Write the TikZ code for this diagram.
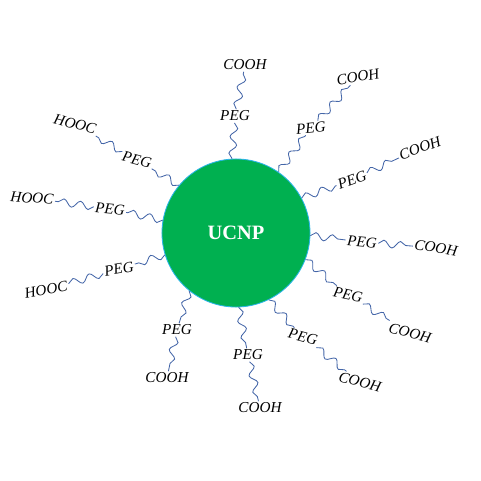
\documentclass[tikz,border=0pt]{standalone}
\usepackage{fontspec}
\setmainfont{Liberation Serif}
\usetikzlibrary{decorations.pathmorphing}
\definecolor{ballgreen}{HTML}{00B050}
\definecolor{ballrim}{HTML}{2BB5E8}
\definecolor{chainblue}{HTML}{4466A8}
\tikzset{
  chain/.style={chainblue, semithick, decorate,
    decoration={snake, segment length=0.42cm, amplitude=0.09cm}},
  group/.style={font=\itshape\fontsize{10.8}{12}\selectfont, inner sep=1pt}
}
\begin{document}
\begin{tikzpicture}[x=0.025cm, y=-0.025cm]
  \useasboundingbox (0,0) rectangle (481,481);
  \node[circle, minimum size=3.7cm, fill=ballgreen, draw=ballrim, line width=0.6pt,
        font=\bfseries\fontsize{14.5}{16}\selectfont, text=white] (ucnp) at (236,233) {UCNP};
  % angle / PEG position and tilt / end group position, tilt and text
  \foreach \ang/\px/\py/\pr/\ex/\ey/\er/\txt [count=\i] in {
      93/235/116/0/245/65/0/COOH,
      55/311/128/5/358/77/10/COOH,
      28/352/180/20/420/148/20/COOH,
      -2/362/242/-5/436/248/-10/COOH,
      -21/348/295/-12/410/333/-15/COOH,
      -64/303/337/-15/360/382/-15/COOH,
      -88/248/355/0/260/408/0/COOH,
      231/177/330/0/167/378/0/COOH,
      197/119/269/10/46/290/10/HOOC,
      170/110/209/-5/32/198/-5/HOOC,
      140/137/160/-15/75/124/-15/HOOC} {
    \node[group, rotate=\pr] (peg\i) at (\px,\py) {PEG};
    \node[group, rotate=\er] (end\i) at (\ex,\ey) {\txt};
    \draw[chain] (ucnp.\ang) -- (peg\i);
    \draw[chain] (peg\i) -- (end\i);
  }
\end{tikzpicture}
\end{document}
